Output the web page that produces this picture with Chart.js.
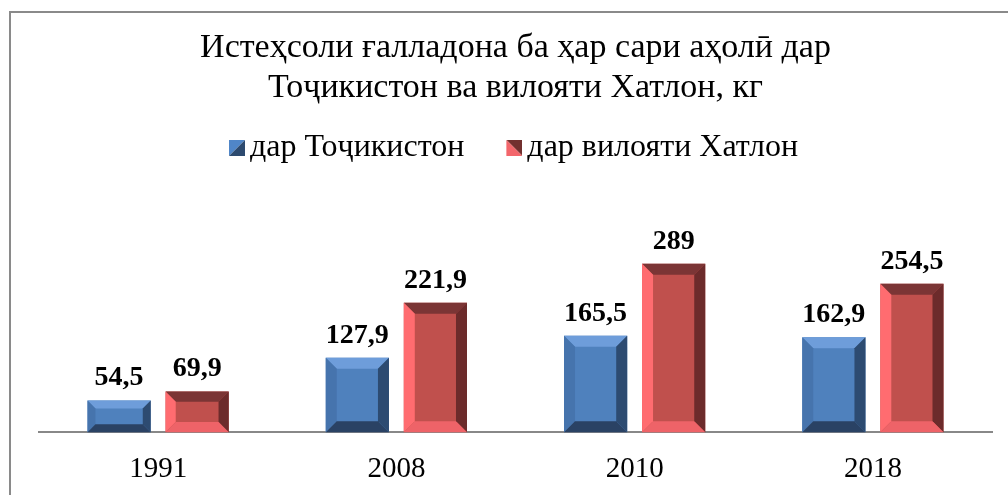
<!DOCTYPE html>
<html>
<head>
<meta charset="utf-8">
<script src="https://cdn.jsdelivr.net/npm/chart.js@4/dist/chart.umd.min.js"></script>
<style>
  html, body { margin: 0; padding: 0; background: #fff; overflow: hidden; }
  #frame { position: absolute; left: 9px; top: 11px; width: 1010px; height: 520px; border: 2px solid #8a8a8a; }
  #chart { position: absolute; left: 0; top: 0; }
</style>
</head>
<body>
<div id="frame"><canvas id="chart" width="1000" height="504"></canvas></div>
<script>
const years = ['1991', '2008', '2010', '2018'];
const tojikiston = [54.5, 127.9, 165.5, 162.9];
const khatlon = [69.9, 221.9, 289, 254.5];
const seriesNames = ['дар Тоҷикистон', 'дар вилояти Хатлон'];
const titleLines = ['Истеҳсоли ғалладона ба ҳар сари аҳолӣ дар', 'Тоҷикистон ва вилояти Хатлон, кг'];

const serif = '"Liberation Serif", "Times New Roman", serif';

// colours of the bevelled faces: centre, top, left, right, bottom
const faces = [
  { fill: '#4F81BD', top: '#6E9DDA', left: '#4674AD', right: '#2D4B71', bottom: '#2A4264' },
  { fill: '#C0504D', top: '#7B3535', left: '#FF6C70', right: '#6C2B2B', bottom: '#EE6368' }
];

// legend marker: 16px square sitting at the right of a 23px canvas
function makeIcon(light, dark, blue) {
  const c = document.createElement('canvas');
  c.width = 23; c.height = 16;
  const g = c.getContext('2d');
  const x0 = 7, x1 = 23, h = 16;
  if (blue) {
    g.fillStyle = light;
    g.beginPath(); g.moveTo(x0, 0); g.lineTo(x1, 0); g.lineTo(x0, h); g.closePath(); g.fill();
    g.fillStyle = dark;
    g.beginPath(); g.moveTo(x1, 0); g.lineTo(x1, h); g.lineTo(x0, h); g.closePath(); g.fill();
  } else {
    g.fillStyle = dark;
    g.beginPath(); g.moveTo(x0, 0); g.lineTo(x1, 0); g.lineTo(x1, h); g.closePath(); g.fill();
    g.fillStyle = light;
    g.beginPath(); g.moveTo(x0, 0); g.lineTo(x1, h); g.lineTo(x0, h); g.closePath(); g.fill();
  }
  return c;
}
const legendIcons = [makeIcon('#5086C8', '#2D4A6F', true), makeIcon('#F3666B', '#72302F', false)];

function poly(ctx, pts, color) {
  ctx.fillStyle = color;
  ctx.beginPath();
  ctx.moveTo(pts[0][0], pts[0][1]);
  for (let i = 1; i < pts.length; i++) ctx.lineTo(pts[i][0], pts[i][1]);
  ctx.closePath();
  ctx.fill();
}

const bevelBars = {
  id: 'bevelBars',
  afterDatasetsDraw(chart) {
    const ctx = chart.ctx;
    ctx.save();
    chart.data.datasets.forEach((ds, i) => {
      const f = faces[i];
      chart.getDatasetMeta(i).data.forEach(bar => {
        const p = bar.getProps(['x', 'y', 'base', 'width'], true);
        const l = p.x - p.width / 2, r = p.x + p.width / 2;
        const t = Math.min(p.y, p.base), b = Math.max(p.y, p.base);
        const d = Math.min(11, (b - t) / 4);
        poly(ctx, [[l, t], [r, t], [r - d, t + d], [l + d, t + d]], f.top);
        poly(ctx, [[l, t], [l + d, t + d], [l + d, b - d], [l, b]], f.left);
        poly(ctx, [[r, t], [r, b], [r - d, b - d], [r - d, t + d]], f.right);
        poly(ctx, [[l, b], [l + d, b - d], [r - d, b - d], [r, b]], f.bottom);
      });
    });
    // value labels
    ctx.fillStyle = '#000';
    ctx.font = 'bold 28px ' + serif;
    ctx.textAlign = 'center';
    ctx.textBaseline = 'alphabetic';
    chart.data.datasets.forEach((ds, i) => {
      chart.getDatasetMeta(i).data.forEach((bar, j) => {
        const txt = String(ds.data[j]).replace('.', ',');
        ctx.fillText(txt, bar.x, bar.y - 15);
      });
    });
    ctx.restore();
  }
};

new Chart(document.getElementById('chart'), {
  type: 'bar',
  data: {
    labels: years,
    datasets: [
      { label: seriesNames[0], data: tojikiston, backgroundColor: faces[0].fill, borderWidth: 0 },
      { label: seriesNames[1], data: khatlon, backgroundColor: faces[1].fill, borderWidth: 0 }
    ]
  },
  options: {
    responsive: false,
    animation: false,
    categoryPercentage: 0.655,
    barPercentage: 0.81,
    layout: { padding: { left: 28, right: 19, top: 0, bottom: 10 } },
    plugins: {
      title: {
        display: true,
        text: titleLines,
        color: '#000',
        font: { family: serif, size: 34, weight: 'normal', lineHeight: 40 / 34 },
        padding: { top: 15, bottom: -22 }
      },
      legend: {
        display: true,
        position: 'top',
        labels: {
          color: '#000',
          font: { family: serif, size: 32 },
          usePointStyle: true,
          pointStyleWidth: 1,
          padding: 46,
          generateLabels: chart => chart.data.datasets.map((ds, i) => ({
            text: ds.label,
            pointStyle: legendIcons[i],
            datasetIndex: i,
            hidden: false,
            lineWidth: 0,
            strokeStyle: 'transparent',
            fillStyle: 'transparent',
            fontColor: '#000'
          }))
        }
      },
      tooltip: { enabled: false }
    },
    scales: {
      x: {
        grid: { display: false, drawTicks: false },
        border: { display: true, color: '#888888', width: 2 },
        ticks: { color: '#000', font: { family: serif, size: 29 }, padding: 20 }
      },
      y: {
        display: false,
        min: 0,
        max: 443
      }
    }
  },
  plugins: [bevelBars]
});
</script>
</body>
</html>
